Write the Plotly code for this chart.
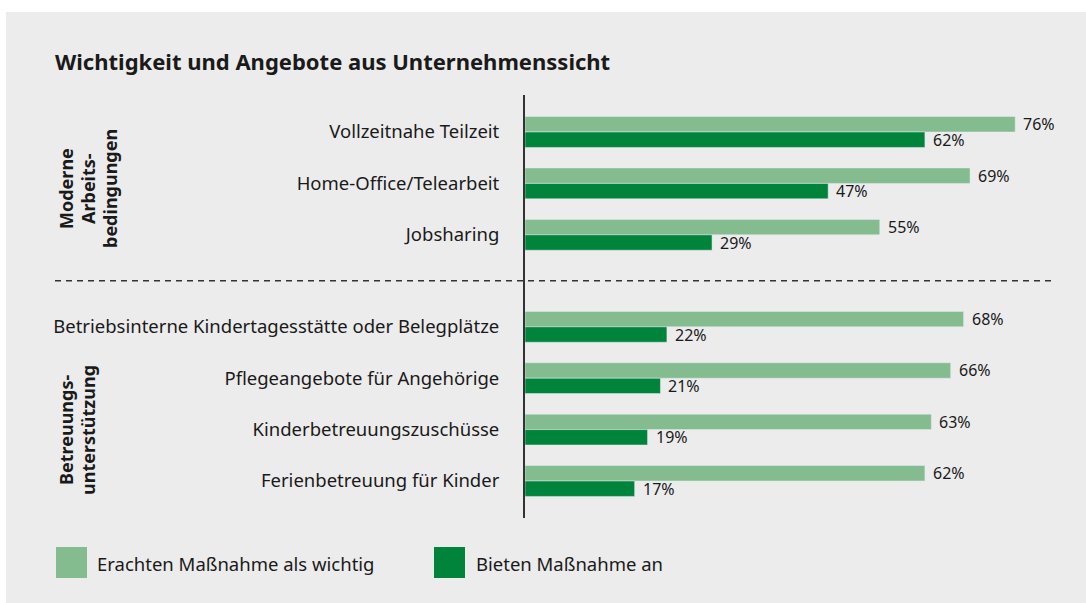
import plotly.graph_objects as go

categories = [
    "Vollzeitnahe Teilzeit",
    "Home-Office/Telearbeit",
    "Jobsharing",
    "Betriebsinterne Kindertagesstätte oder Belegplätze",
    "Pflegeangebote für Angehörige",
    "Kinderbetreuungszuschüsse",
    "Ferienbetreuung für Kinder",
]
group_of = [0, 0, 0, 1, 1, 1, 1]
important = [76, 69, 55, 68, 66, 63, 62]
offered = [62, 47, 29, 22, 21, 19, 17]
series_names = ["Erachten Maßnahme als wichtig", "Bieten Maßnahme an"]
group_lines = [["Moderne", "Arbeits-", "bedingungen"], ["Betreuungs-", "unterstützung"]]

LIGHT = "#84bb8f"
DARK = "#00833a"
BG = "#ececec"
TXT = "#1a1a1a"
FONT = "Noto Sans"

GROUP_GAP = 0.79
pos = [i + GROUP_GAP * g for i, g in enumerate(group_of)]

W, H = 1086, 603
L, R, T, B = 525, 31, 95, 85
px_per_pct = 6.45
xmax = (W - L - R) / px_per_pct

fig = go.Figure()
fig.add_trace(go.Bar(x=important, y=pos, orientation="h", marker_color=LIGHT,
                     name=series_names[0], showlegend=False, hoverinfo="x"))
fig.add_trace(go.Bar(x=offered, y=pos, orientation="h", marker_color=DARK,
                     name=series_names[1], showlegend=False, hoverinfo="x"))

ann = []
for v, p in zip(important, pos):
    ann.append(dict(x=v, y=p - 0.15, xref="x", yref="y", text=f"{v}%", showarrow=False,
                    xanchor="left", yanchor="middle", xshift=6, font=dict(size=16, color=TXT, family=FONT)))
for v, p in zip(offered, pos):
    ann.append(dict(x=v, y=p + 0.15, xref="x", yref="y", text=f"{v}%", showarrow=False,
                    xanchor="left", yanchor="middle", xshift=6, font=dict(size=16, color=TXT, family=FONT)))

pw = W - L - R
def px2paper_x(px):
    return (px - L) / pw
ph = H - T - B
def px2paper_y(py):
    return 1 - (py - T) / ph

# group labels (one annotation per line for tight line spacing)
group_centers_y = [189, 430]
for lines, cy in zip(group_lines, group_centers_y):
    for k, line in enumerate(lines):
        ann.append(dict(x=px2paper_x(66 + 22 * k), y=px2paper_y(cy), xref="paper", yref="paper",
                        text="<b>" + line + "</b>", showarrow=False, textangle=-90,
                        xanchor="center", yanchor="middle",
                        font=dict(size=18, color=TXT, family=FONT)))

# white outer border (top & left), grey panel is the paper background
shapes = []
shapes.append(dict(type="rect", xref="paper", yref="paper", x0=px2paper_x(-5), x1=px2paper_x(W + 5),
                   y0=px2paper_y(12), y1=px2paper_y(-5), fillcolor="white", line=dict(width=0), layer="below"))
shapes.append(dict(type="rect", xref="paper", yref="paper", x0=px2paper_x(-5), x1=px2paper_x(6),
                   y0=px2paper_y(H + 5), y1=px2paper_y(-5), fillcolor="white", line=dict(width=0), layer="below"))
leg = [(56, LIGHT, 95, series_names[0]), (434, DARK, 474, series_names[1])]
for sx, col, tx, name in leg:
    shapes.append(dict(type="rect", xref="paper", yref="paper", x0=px2paper_x(sx), x1=px2paper_x(sx + 31),
                       y0=px2paper_y(578), y1=px2paper_y(547), fillcolor=col, line=dict(width=0)))
    ann.append(dict(x=px2paper_x(tx), y=px2paper_y(563), xref="paper", yref="paper", text=name, showarrow=False,
                    xanchor="left", yanchor="middle", font=dict(size=18.5, color=TXT, family=FONT)))

# dashed separator
sep = (pos[2] + pos[3]) / 2
shapes.append(dict(type="line", xref="paper", yref="y", x0=px2paper_x(55), x1=px2paper_x(1053), y0=sep, y1=sep,
                   line=dict(color="#333333", width=1.5, dash="6px,5px")))

fig.update_layout(
    width=W, height=H, autosize=False,
    margin=dict(l=L, r=R, t=T, b=B, pad=0),
    paper_bgcolor=BG, plot_bgcolor="rgba(0,0,0,0)",
    barmode="group", bargap=0.4, bargroupgap=0,
    font=dict(family=FONT, color=TXT),
    title=dict(text="<b>Wichtigkeit und Angebote aus Unternehmenssicht</b>", x=55 / W, xref="container",
               xanchor="left", y=1 - 62 / H, yanchor="middle", yref="container",
               font=dict(size=22, color=TXT, family=FONT)),
    xaxis=dict(range=[0, xmax], visible=False, showgrid=False, zeroline=False),
    yaxis=dict(range=[pos[-1] + 0.72, pos[0] - 0.72], tickmode="array", tickvals=pos, ticktext=categories,
               showline=True, linecolor="#333333", linewidth=2, showgrid=False, zeroline=False,
               ticks="outside", ticklen=20, tickcolor="rgba(0,0,0,0)",
               tickfont=dict(size=18.5, color=TXT, family=FONT)),
    shapes=shapes, annotations=ann,
)
fig.write_html("out.html", config={"displayModeBar": False},
               post_script=("document.body.style.margin='0';document.body.style.overflow='hidden';"
                            "document.body.style.background='" + BG + "';"
                            "document.documentElement.style.background='" + BG + "';"))
